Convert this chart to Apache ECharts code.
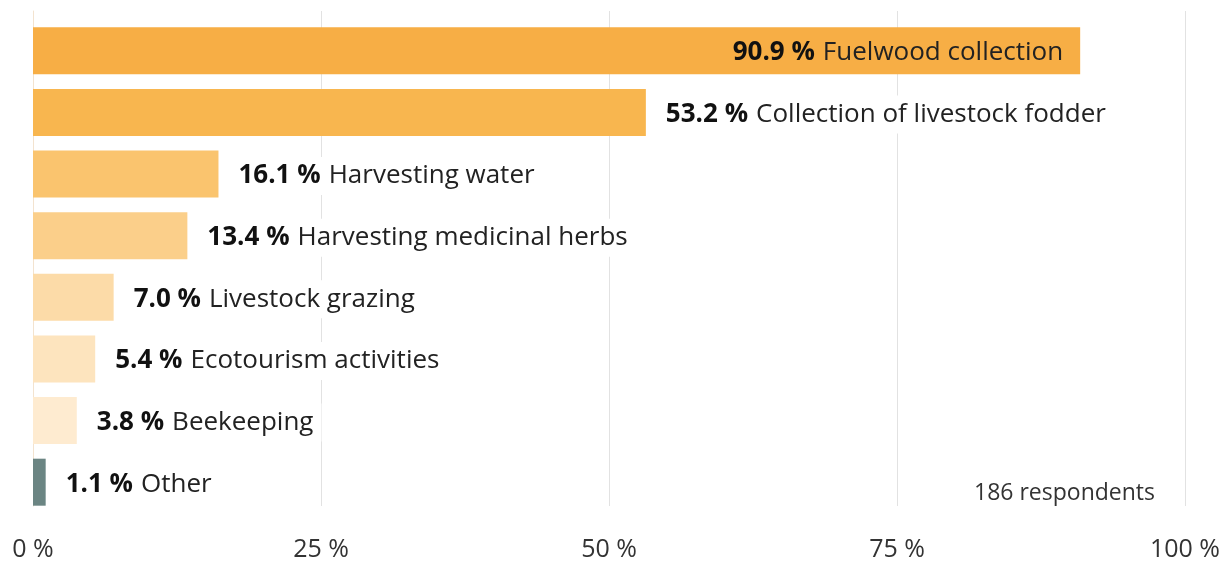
<!DOCTYPE html>
<html><head><meta charset="utf-8">
<script src="https://cdn.jsdelivr.net/npm/echarts@6/dist/echarts.min.js"></script>
<style>html,body{margin:0;padding:0;background:#fff}#c{width:1225px;height:562px}</style>
</head><body><div id="c"></div>
<script>
const categories = ['Fuelwood collection','Collection of livestock fodder','Harvesting water','Harvesting medicinal herbs','Livestock grazing','Ecotourism activities','Beekeeping','Other'];
const values = [90.9, 53.2, 16.1, 13.4, 7.0, 5.4, 3.8, 1.1];
const barColors = ['#F7AE45','#F8B64F','#FAC46E','#FBCF8A','#FCDBA8','#FDE4BE','#FEEBD0','#6B8583'];
const tickValues = [0, 25, 50, 75, 100];
const note = '186 respondents';

const FONT = '"Open Sans", "Noto Sans", sans-serif';
const chart = echarts.init(document.getElementById('c'), null, {renderer:'canvas'});
const rich = {
  b: {fontFamily: FONT, fontWeight: 'bold', fontSize: 26, color: '#111', padding: [0, 8, 0, 0]},
  n: {fontFamily: FONT, fontSize: 26, color: '#222'}
};
chart.setOption({
  animation: false,
  backgroundColor: '#fff',
  grid: [
    {left: 33, right: 40, top: 20, height: 493},
    {left: 33, right: 40, top: 11, bottom: 42}
  ],
  xAxis: [
    {gridIndex: 0, type: 'value', min: 0, max: 100, show: false},
    {gridIndex: 1, type: 'value', min: 0, max: 100, interval: 25,
     axisLine: {show: false}, axisTick: {show: false},
     splitLine: {show: true, lineStyle: {color: '#e2e2e2', width: 1}},
     axisLabel: {fontFamily: FONT, fontSize: 25, color: '#333', margin: 23,
       padding: [8, 0, 0, 0],
       formatter: v => tickValues.includes(v) ? v + ' %' : ''}}
  ],
  yAxis: [
    {gridIndex: 0, type: 'category', data: categories, inverse: true, show: false},
    {gridIndex: 1, type: 'value', min: 0, max: 1, show: true,
     axisLabel: {show: false}, axisTick: {show: false}, splitLine: {show: false},
     axisLine: {show: true, lineStyle: {color: '#f3e3cf', width: 1}}}
  ],
  series: [
    {type: 'scatter', xAxisIndex: 1, yAxisIndex: 1, data: [], silent: true},
    {
      type: 'bar', xAxisIndex: 0, yAxisIndex: 0, barWidth: 47, z: 3,
      data: values.map((v, i) => ({
        value: v,
        itemStyle: {color: barColors[i]},
        label: i === 0 ? {position: 'insideRight', distance: 17, backgroundColor: 'transparent', padding: 0} : {}
      })),
      label: {
        show: true, position: 'right', distance: 12,
        backgroundColor: '#fff', padding: [6, 8], offset: [0, 2],
        formatter: p => '{b|' + p.value.toFixed(1) + ' %}{n|' + p.name + '}',
        rich: rich
      }
    }
  ],
  graphic: [
    {type: 'text', right: 70, top: 482,
     style: {text: note, fontFamily: FONT, fontSize: 23, fill: '#333'}}
  ]
});
</script>
</body></html>
